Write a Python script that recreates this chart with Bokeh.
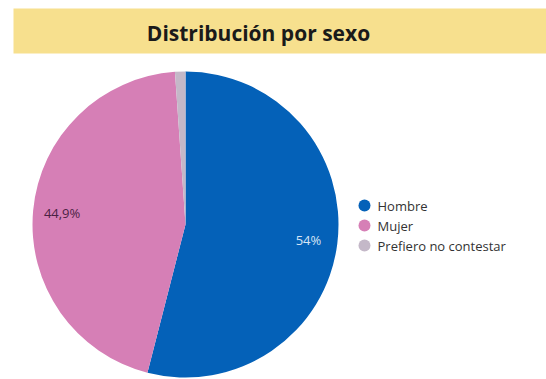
import numpy as np
from bokeh.plotting import figure
from bokeh.models import Range1d, ColumnDataSource
from bokeh.core.properties import value
from bokeh.embed import file_html
from bokeh.resources import INLINE

title = "Distribución por sexo"
categories = ["Hombre", "Mujer", "Prefiero no contestar"]
percents = [54.0, 44.9, 1.1]
pct_labels = ["54%", "44,9%", ""]
colors = ["#0461b8", "#d67fb6", "#c4b8c8"]
label_colors = ["#d6e4f5", "#4a2244", "#333333"]

W, H = 546, 379
p = figure(width=W, height=H, output_backend="svg", toolbar_location=None,
           x_range=Range1d(0, W), y_range=Range1d(0, H), min_border=0)
p.axis.visible = False
p.grid.visible = False
p.outline_line_color = None
p.background_fill_color = "white"
p.border_fill_color = "white"

# title band
p.quad(left=13, right=W, bottom=H - 53, top=H - 8, fill_color="#f7e08e", line_color=None)
p.text(x=[258], y=[H - 32], text=[title], text_font=value("Open Sans"),
       text_font_style="bold", text_font_size="21px", text_color="#1a1a1a",
       text_align="center", text_baseline="middle")

# pie
cx, cy, R = 185, 155, 153
frac = np.array(percents) / sum(percents)
ends = np.pi / 2 - 2 * np.pi * np.cumsum(frac)
starts = np.concatenate([[np.pi / 2], ends[:-1]])
src = ColumnDataSource(dict(start=starts, end=ends, color=colors))
p.wedge(x=cx, y=cy, radius=R, start_angle="start", end_angle="end",
        direction="clock", fill_color="color", line_color=None, source=src)

mids = (starts + ends) / 2
lr = 0.81 * R
p.text(x=cx + lr * np.cos(mids), y=cy + lr * np.sin(mids), text=pct_labels,
       text_color=label_colors, text_font=value("Open Sans"), text_font_size="13px",
       text_align="center", text_baseline="middle")

# legend
ly = [174 - 20 * i for i in range(len(categories))]
p.scatter(x=[364] * len(categories), y=ly, size=12, marker="circle",
          fill_color=colors, line_color=None)
p.text(x=[377] * len(categories), y=ly, text=categories, text_font=value("Open Sans"),
       text_font_size="13px", text_color="#333333", text_baseline="middle")

open("out.html", "w").write(file_html(p, INLINE))
